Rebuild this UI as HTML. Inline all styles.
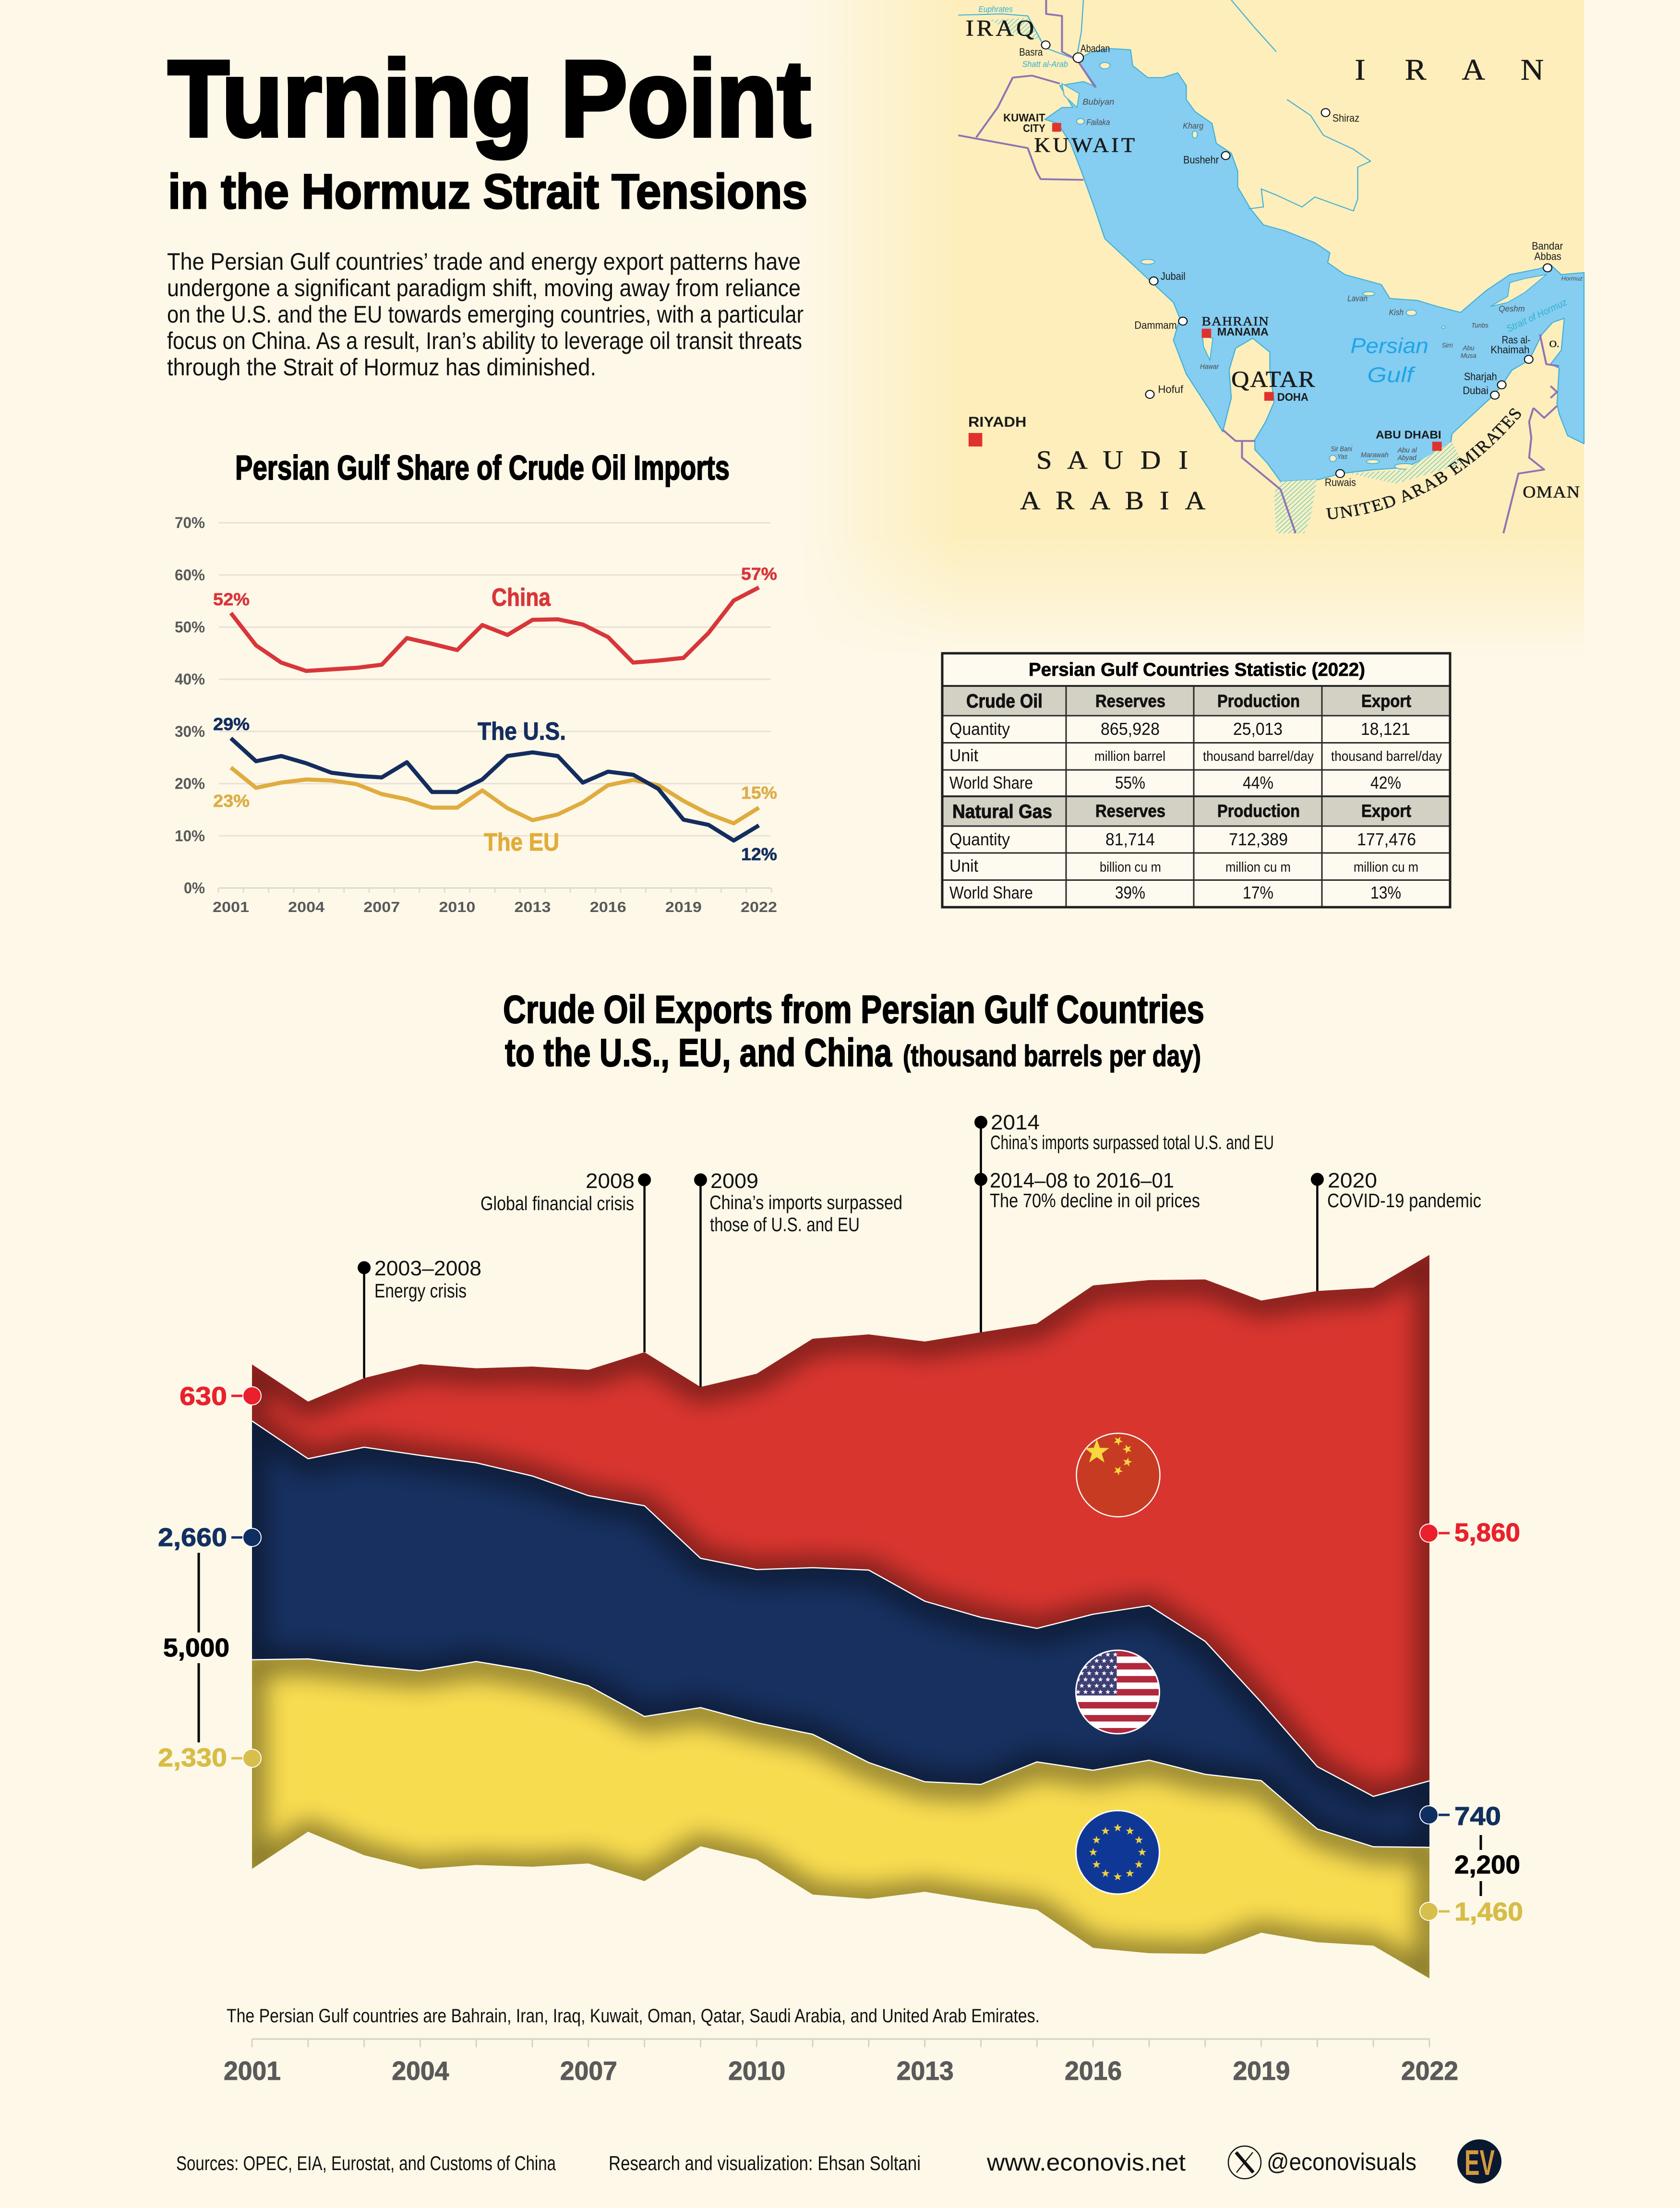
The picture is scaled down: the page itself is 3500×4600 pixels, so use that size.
<!DOCTYPE html>
<html lang="en">
<head>
<meta charset="utf-8">
<title>Turning Point in the Hormuz Strait Tensions</title>
<style>
html,body{margin:0;padding:0;background:#fdf8e8;}
svg{display:block;}
text{font-family:"Liberation Sans",sans-serif;fill:#111;}
.b{font-weight:700;}
.s{font-family:"Liberation Serif",serif;fill:#1a1a1a;stroke:#1a1a1a;stroke-width:.7px;}
.i{font-style:italic;fill:#4a4a4a;font-size:21px;}
.c{font-size:27px;fill:#1a1a1a;}
.cb{font-size:28px;font-weight:700;fill:#1a1a1a;}
.t{font-size:36px;}
.th{font-size:37px;font-weight:700;stroke:#111;stroke-width:.8px;}
.u{font-size:29px;}
.a{font-size:44px;fill:#111;}
.d{font-size:41px;fill:#111;}
.l{font-size:54px;font-weight:700;stroke-width:1px;}
.p{font-size:50px;fill:#111;}
.ls{font-size:36px;font-weight:700;stroke-width:.7px;}
</style>
</head>
<body>
<svg id="root" xmlns="http://www.w3.org/2000/svg" width="3500" height="4600" viewBox="0 0 3500 4600">
<defs>
  <linearGradient id="fadeL" x1="0" x2="1" y1="0" y2="0"><stop offset="0" stop-color="#fdf8e8"/><stop offset="1" stop-color="#fdf8e8" stop-opacity="0"/></linearGradient>
  <linearGradient id="fadeB" x1="0" x2="0" y1="0" y2="1"><stop offset="0" stop-color="#fdf8e8" stop-opacity="0"/><stop offset="1" stop-color="#fdf8e8"/></linearGradient>
  <pattern id="hatch" patternUnits="userSpaceOnUse" width="8" height="8" patternTransform="rotate(-45)"><rect width="8" height="8" fill="#f3f1c6"/><rect width="8" height="1.6" fill="#7cc3a8"/></pattern>
  <filter id="blur" filterUnits="userSpaceOnUse" x="300" y="2400" width="2900" height="1950"><feGaussianBlur stdDeviation="26"/></filter>
  <clipPath id="usaClip"><circle cx="2328.5" cy="3525" r="87"/></clipPath>
</defs>
<rect x="0" y="0" width="3500" height="4600" fill="#fdf8e8"/>

<g id="map">
  <rect x="1660" y="0" width="1640" height="1380" fill="#fdeebb"/>
  <g transform="translate(1900,0) scale(.89286,.82908)">
    <path fill="#85cdf1" stroke="#3fb0d8" stroke-width="2.5" stroke-linejoin="round" d="M385 150 L420 130 L462 122 L510 125 L515 165 L550 195 L585 195 L620 183 L640 215 L640 250 L660 280 L700 310 L710 360 L745 385 L760 430 L760 470 L790 525 L820 565 L870 580 L940 610 L975 635 L970 660 L1010 690 L1095 715 L1115 750 L1180 755 L1225 770 L1280 785 L1340 730 L1395 690 L1465 675 L1490 665 L1515 690 L1568 685 L1568 1115 L1530 1095 L1510 1040 L1505 1015 L1510 925 L1490 915 L1515 880 L1522 800 L1495 810 L1470 840 L1440 905 L1400 930 L1375 970 L1350 1000 L1300 1050 L1260 1090 L1255 1130 L1200 1150 L1150 1175 L1080 1180 L1000 1190 L950 1205 L860 1210 L830 1165 L800 1130 L800 1105 L825 1060 L845 1010 L835 930 L835 885 L795 850 L755 875 L740 930 L745 1000 L725 1085 L700 1040 L640 940 L610 855 L625 800 L610 760 L560 710 L500 650 L450 600 L425 520 L395 430 L370 360 L340 310 L310 300 L350 270 L375 270 L345 215 L400 205 L430 218 Z"/>
    <g fill="#fdeebb" stroke="#3fb0d8" stroke-width="2">
      <path d="M1350 770 L1390 745 L1395 710 L1430 700 L1480 690 L1430 735 L1390 760 Z"/>
      <path d="M350 210 L390 235 L385 270 L355 240 Z"/>
      <path d="M678 845 L702 850 L695 905 L680 870 Z"/>
      <ellipse cx="393" cy="305" rx="9" ry="7"/><ellipse cx="660" cy="338" rx="6" ry="9"/>
      <ellipse cx="1066" cy="738" rx="14" ry="5"/><ellipse cx="1165" cy="786" rx="12" ry="7"/>
      <ellipse cx="1075" cy="1160" rx="15" ry="5"/><ellipse cx="1150" cy="1172" rx="24" ry="7"/>
      <ellipse cx="982" cy="1152" rx="8" ry="8"/><ellipse cx="450" cy="165" rx="12" ry="8"/><ellipse cx="550" cy="658" rx="16" ry="6"/><ellipse cx="1240" cy="822" rx="4" ry="3"/>
    </g>
    <g fill="url(#hatch)">
      <path d="M860 1210 L945 1205 L930 1300 L915 1340 L850 1340 L845 1240 Z"/>
      <path d="M1020 1190 L1150 1180 L1260 1110 L1285 1165 L1130 1215 Z"/>
      <path d="M180 50 L270 45 L305 102 L240 85 Z"/>
    </g>
    <g fill="none" stroke="#3fb0d8" stroke-width="2.5">
      <path d="M108 38 L210 35 L270 40 L310 120 L385 150"/>
      <path d="M400 0 L395 80 L385 140"/>
      <path d="M745 0 L800 70 L850 130"/>
      <path d="M875 250 L930 290 L960 340 L1030 375 L1070 405 L1040 420 L1040 500 L1030 530 L940 495 L910 520 L850 490 L815 475 L820 520 L785 525"/>
    </g>
    <g fill="none" stroke="#8e73b3" stroke-width="4.5" stroke-linejoin="round">
      <path d="M313 0 L313 35 L350 40 L350 130 L385 150 L428 220"/>
      <path d="M345 210 L280 190 L235 195 L200 270 L150 345"/>
      <path d="M108 340 L270 372 L290 430 L300 450 L400 452"/>
      <path d="M725 1080 L755 1108 L800 1108"/>
      <path d="M770 1110 L770 1150 L860 1230 L895 1340"/>
      <path d="M1450 1025 L1440 1060 L1445 1100 L1440 1150 L1475 1180 L1415 1190 L1380 1340"/>
      <path d="M1450 1025 L1475 1050 L1505 1020"/>
      <path d="M1465 840 L1480 915 L1510 920"/>
      <path d="M1490 970 L1505 985 L1490 1000"/>
    </g>
    <g fill="#e0322d">
      <rect x="327" y="309" width="21" height="22"/><rect x="676" y="826" width="22" height="23"/><rect x="822" y="985" width="22" height="22"/><rect x="1214" y="1110" width="22" height="23"/><rect x="132" y="1088" width="32" height="34"/>
    </g>
    <g fill="#fff" stroke="#111" stroke-width="2.5">
      <circle cx="312" cy="113" r="10"/><circle cx="388" cy="145" r="12"/><circle cx="965" cy="283" r="10"/><circle cx="732" cy="391" r="10"/><circle cx="564" cy="706" r="10"/><circle cx="632" cy="807" r="10"/><circle cx="555" cy="991" r="10"/><circle cx="1483" cy="673" r="10"/><circle cx="1439" cy="903" r="10"/><circle cx="1376" cy="967" r="10"/><circle cx="1360" cy="993" r="10"/><circle cx="999" cy="1190" r="10"/>
    </g>
    <g>
      <text class="s sp" x="125" y="90" font-size="58" textLength="160">IRAQ</text>
      <text class="s" x="1033 1150 1283 1420" y="200" font-size="75">IRAN</text>
      <text class="s sp" x="285" y="382" font-size="52" textLength="235">KUWAIT</text>
      <text class="s" x="290 362 445 533 622" y="1178" font-size="66">SAUDI</text>
      <text class="s" x="252 335 415 497 578 637" y="1280" font-size="66">ARABIA</text>
      <text class="s sp" x="745" y="972" font-size="58" textLength="195">QATAR</text>
      <text class="s sp" x="676" y="818" font-size="32" textLength="156">BAHRAIN</text>
      <text class="s sp" x="1425" y="1250" font-size="42" textLength="133">OMAN</text>
      <text class="s" x="1487" y="872" font-size="24">O.</text>
      <path id="uaePath" d="M968 1305 Q1240 1285 1440 1020" fill="none"/>
      <text class="s" font-size="42"><textPath class="sp" href="#uaePath" textLength="545">UNITED ARAB EMIRATES</textPath></text>
      <text class="cb" x="213" y="305" textLength="98">KUWAIT</text>
      <text class="cb" x="259" y="332" textLength="52">CITY</text>
      <text class="cb" x="712" y="843" textLength="120">MANAMA</text>
      <text class="cb" x="852" y="1007" textLength="73">DOHA</text>
      <text class="cb" x="1082" y="1102" textLength="153">ABU DHABI</text>
      <text class="cb" x="131" y="1072" font-size="36" style="font-size:36px" textLength="136">RIYADH</text>
      <text class="c" x="250" y="140" textLength="55">Basra</text>
      <text class="c" x="393" y="131" textLength="69">Abadan</text>
      <text class="c" x="981" y="306" textLength="63">Shiraz</text>
      <text class="c" x="633" y="411" textLength="83">Bushehr</text>
      <text class="c" x="580" y="703" textLength="58">Jubail</text>
      <text class="c" x="519" y="826" textLength="99">Dammam</text>
      <text class="c" x="574" y="987" textLength="59">Hofuf</text>
      <text class="c" x="1446" y="627" textLength="73">Bandar</text>
      <text class="c" x="1452" y="653" textLength="63">Abbas</text>
      <text class="c" x="1376" y="863" textLength="67">Ras al-</text>
      <text class="c" x="1350" y="888" textLength="91">Khaimah</text>
      <text class="c" x="1288" y="955" textLength="77">Sharjah</text>
      <text class="c" x="1285" y="990" textLength="60">Dubai</text>
      <text class="c" x="963" y="1221" textLength="73">Ruwais</text>
      <text class="i" style="fill:#2fb2cf" x="155" y="30" textLength="80">Euphrates</text>
      <text class="i" style="fill:#2fb2cf" x="257" y="168" textLength="107">Shatt al-Arab</text>
      <text class="i" x="398" y="263" textLength="74">Bubiyan</text>
      <text class="i" x="407" y="314" textLength="55">Failaka</text>
      <text class="i" x="632" y="323" textLength="48">Kharg</text>
      <text class="i" x="1016" y="757" textLength="47">Lavan</text>
      <text class="i" x="1113" y="792" textLength="34">Kish</text>
      <text class="i" x="1515" y="705" textLength="50" style="font-size:16px">Hormuz</text>
      <text class="i" x="1369" y="783" textLength="61">Qeshm</text>
      <text class="i" x="1305" y="823" textLength="40" style="font-size:17px">Tunbs</text>
      <text class="i" x="1236" y="873" textLength="26" style="font-size:17px">Sirri</text>
      <text class="i" x="1285" y="880" textLength="27" style="font-size:17px">Abu</text>
      <text class="i" x="1280" y="899" textLength="37" style="font-size:17px">Musa</text>
      <text class="i" x="672" y="927" textLength="44" style="font-size:18px">Hawar</text>
      <text class="i" x="977" y="1134" textLength="50" style="font-size:18px">Sir Bani</text>
      <text class="i" x="992" y="1153" textLength="24" style="font-size:18px">Yas</text>
      <text class="i" x="1047" y="1149" textLength="65" style="font-size:18px">Marawah</text>
      <text class="i" x="1133" y="1137" textLength="45" style="font-size:18px">Abu al</text>
      <text class="i" x="1133" y="1156" textLength="44" style="font-size:18px">Abyad</text>
      <text class="i" style="fill:#1fa5e8;font-size:54px" x="1023" y="887" textLength="182">Persian</text>
      <text class="i" style="fill:#1fa5e8;font-size:54px" x="1062" y="960" textLength="108">Gulf</text>
      <text class="i" style="fill:#2fb2cf;font-size:24px" transform="translate(1392,835) rotate(-27)" textLength="155">Strait of Hormuz</text>
    </g>
  </g>
  <rect x="1660" y="0" width="340" height="1380" fill="url(#fadeL)"/>
  <rect x="1660" y="1110" width="1640" height="262" fill="url(#fadeB)"/>
  <rect x="1660" y="1372" width="1640" height="10" fill="#fdf8e8"/>
</g>

<g>
  <text class="b" x="350" y="283" font-size="225" textLength="1339" style="fill:#000;stroke:#000;stroke-width:8px">Turning Point</text>
  <text class="b" x="350" y="434" font-size="102" textLength="1332" style="fill:#000;stroke:#000;stroke-width:3px">in the Hormuz Strait Tensions</text>
  <text class="p" x="348" y="562" textLength="1320">The Persian Gulf countries’ trade and energy export patterns have</text>
  <text class="p" x="348" y="617" textLength="1320">undergone a significant paradigm shift, moving away from reliance</text>
  <text class="p" x="348" y="672" textLength="1326">on the U.S. and the EU towards emerging countries, with a particular</text>
  <text class="p" x="348" y="727" textLength="1323">focus on China. As a result, Iran’s ability to leverage oil transit threats</text>
  <text class="p" x="348" y="782" textLength="894">through the Strait of Hormuz has diminished.</text>
</g>

<g id="shareChart">
  <text class="b" x="490" y="999" font-size="71" textLength="1030" style="fill:#000;stroke:#000;stroke-width:2px">Persian Gulf Share of Crude Oil Imports</text>
  <g id="shareAxes"></g>
  <g id="shareLines"></g>
  <text class="ls" style="fill:#d8363a" x="444" y="1261" textLength="76">52%</text>
  <text class="ls" style="fill:#d8363a" x="1544" y="1208" textLength="75">57%</text>
  <text class="b" style="fill:#d8363a;stroke:#d8363a;stroke-width:1px" x="1024" y="1262" font-size="52" textLength="123">China</text>
  <text class="ls" style="fill:#142d5e" x="444" y="1521" textLength="76">29%</text>
  <text class="ls" style="fill:#142d5e" x="1544" y="1792" textLength="75">12%</text>
  <text class="b" style="fill:#142d5e;stroke:#142d5e;stroke-width:1px" x="995" y="1541" font-size="52" textLength="184">The U.S.</text>
  <text class="ls" style="fill:#dcae48" x="444" y="1681" textLength="76">23%</text>
  <text class="ls" style="fill:#dcae48" x="1544" y="1664" textLength="75">15%</text>
  <text class="b" style="fill:#e0ac3a;stroke:#e0ac3a;stroke-width:1px" x="1008" y="1772" font-size="52" textLength="157">The EU</text>
</g>

<g>
  <rect x="1963" y="1361" width="1058" height="529" fill="#fffaf0"/>
  <rect x="1963" y="1431" width="1058" height="59" fill="#d3d0c4"/>
  <rect x="1963" y="1661" width="1058" height="59" fill="#d3d0c4"/>
  <g stroke="#2a2a2a" stroke-width="3">
    <line x1="1963" x2="3021" y1="1491" y2="1491"/><line x1="1963" x2="3021" y1="1547.5" y2="1547.5"/><line x1="1963" x2="3021" y1="1604" y2="1604"/><line x1="1963" x2="3021" y1="1721" y2="1721"/><line x1="1963" x2="3021" y1="1777" y2="1777"/><line x1="1963" x2="3021" y1="1833.5" y2="1833.5"/>
    <line x1="2221" x2="2221" y1="1430" y2="1889"/><line x1="2487" x2="2487" y1="1430" y2="1889"/><line x1="2754" x2="2754" y1="1430" y2="1889"/>
    <line x1="1963" x2="3021" y1="1429" y2="1429" stroke-width="4"/><line x1="1963" x2="3021" y1="1659" y2="1659" stroke-width="4"/>
  </g>
  <rect x="1963" y="1361" width="1058" height="529" fill="none" stroke="#1e1e1e" stroke-width="5"/>
  <text class="b" x="2143" y="1408" font-size="39" textLength="701" style="fill:#000;stroke:#000;stroke-width:.8px">Persian Gulf Countries Statistic (2022)</text>
  <text class="b" x="2013" y="1474" font-size="40" textLength="159" style="stroke:#111;stroke-width:1px">Crude Oil</text>
  <text class="th" x="2282" y="1473" textLength="146">Reserves</text>
  <text class="th" x="2536" y="1473" textLength="172">Production</text>
  <text class="th" x="2836" y="1473" textLength="104">Export</text>
  <text class="t" x="1978" y="1531" textLength="126">Quantity</text>
  <text class="t" x="2293" y="1531" textLength="123">865,928</text>
  <text class="t" x="2569" y="1531" textLength="103">25,013</text>
  <text class="t" x="2835" y="1531" textLength="103">18,121</text>
  <text class="t" x="1978" y="1586" textLength="60">Unit</text>
  <text class="u" x="2280" y="1585" textLength="148">million barrel</text>
  <text class="u" x="2506" y="1585" textLength="231">thousand barrel/day</text>
  <text class="u" x="2773" y="1585" textLength="231">thousand barrel/day</text>
  <text class="t" x="1978" y="1643" textLength="174">World Share</text>
  <text class="t" x="2323" y="1643" textLength="63">55%</text>
  <text class="t" x="2589" y="1643" textLength="64">44%</text>
  <text class="t" x="2855" y="1643" textLength="64">42%</text>
  <text class="b" x="1984" y="1704" font-size="40" textLength="208" style="stroke:#111;stroke-width:1px">Natural Gas</text>
  <text class="th" x="2282" y="1702" textLength="146">Reserves</text>
  <text class="th" x="2536" y="1702" textLength="172">Production</text>
  <text class="th" x="2836" y="1702" textLength="104">Export</text>
  <text class="t" x="1978" y="1761" textLength="126">Quantity</text>
  <text class="t" x="2303" y="1761" textLength="103">81,714</text>
  <text class="t" x="2560" y="1761" textLength="123">712,389</text>
  <text class="t" x="2827" y="1761" textLength="123">177,476</text>
  <text class="t" x="1978" y="1816" textLength="60">Unit</text>
  <text class="u" x="2291" y="1816" textLength="128">billion cu m</text>
  <text class="u" x="2553" y="1816" textLength="136">million cu m</text>
  <text class="u" x="2820" y="1816" textLength="135">million cu m</text>
  <text class="t" x="1978" y="1872" textLength="174">World Share</text>
  <text class="t" x="2323" y="1872" textLength="63">39%</text>
  <text class="t" x="2589" y="1872" textLength="64">17%</text>
  <text class="t" x="2855" y="1872" textLength="64">13%</text>
</g>

<g>
  <text class="b" x="1048" y="2131" font-size="82" textLength="1461" style="fill:#000;stroke:#000;stroke-width:2px">Crude Oil Exports from Persian Gulf Countries</text>
  <text class="b" x="1052" y="2221" font-size="82" textLength="806" style="fill:#000;stroke:#000;stroke-width:2px">to the U.S., EU, and China</text>
  <text class="b" x="1881" y="2221" font-size="62" textLength="621" style="fill:#000;stroke:#000;stroke-width:1.5px">(thousand barrels per day)</text>
</g>

<g id="stream"></g>

<g id="events">
  <text class="a" x="780" y="2657" textLength="223">2003–2008</text>
  <text class="d" x="780" y="2703" textLength="192">Energy crisis</text>
  <text class="a" x="1220" y="2475" textLength="102">2008</text>
  <text class="d" x="1001" y="2521" textLength="320">Global financial crisis</text>
  <text class="a" x="1480" y="2475" textLength="100">2009</text>
  <text class="d" x="1478" y="2519" textLength="402">China’s imports surpassed</text>
  <text class="d" x="1479" y="2565" textLength="312">those of U.S. and EU</text>
  <text class="a" x="2064" y="2353" textLength="102">2014</text>
  <text class="d" x="2063" y="2394" textLength="591">China’s imports surpassed total U.S. and EU</text>
  <text class="a" x="2062" y="2474" textLength="384">2014–08 to 2016–01</text>
  <text class="d" x="2062" y="2515" textLength="438">The 70% decline in oil prices</text>
  <text class="a" x="2766" y="2474" textLength="103">2020</text>
  <text class="d" x="2765" y="2515" textLength="321">COVID-19 pandemic</text>
</g>

<g>
  <line x1="482" x2="512" y1="2908" y2="2908" stroke="#ec1f2c" stroke-width="5"/>
  <circle cx="525" cy="2908" r="19" fill="#ec1f2c" stroke="#fff" stroke-width="2"/>
  <text class="l" style="fill:#e8222c" x="374" y="2927" textLength="99">630</text>
  <line x1="482" x2="512" y1="3203" y2="3203" stroke="#0f2f63" stroke-width="5"/>
  <circle cx="525" cy="3203" r="19" fill="#0f2f63" stroke="#fff" stroke-width="2"/>
  <text class="l" style="fill:#12305f" x="329" y="3221" textLength="144">2,660</text>
  <line x1="482" x2="512" y1="3663" y2="3663" stroke="#d8bf4c" stroke-width="5"/>
  <circle cx="525" cy="3663" r="19" fill="#d8bf4c" stroke="#fff" stroke-width="2"/>
  <text class="l" style="fill:#d6bd47" x="329" y="3680" textLength="144">2,330</text>
  <text class="l" style="fill:#000" x="340" y="3451" textLength="138">5,000</text>
  <line x1="414" x2="414" y1="3235" y2="3401" stroke="#000" stroke-width="5"/>
  <line x1="414" x2="414" y1="3465" y2="3630" stroke="#000" stroke-width="5"/>
  <line x1="2990" x2="3020" y1="3194" y2="3194" stroke="#ec1f2c" stroke-width="5"/>
  <circle cx="2977" cy="3194" r="19" fill="#ec1f2c" stroke="#fff" stroke-width="2"/>
  <text class="l" style="fill:#e8222c" x="3030" y="3211" textLength="137">5,860</text>
  <line x1="2990" x2="3020" y1="3781" y2="3781" stroke="#0f2f63" stroke-width="5"/>
  <circle cx="2977" cy="3781" r="19" fill="#0f2f63" stroke="#fff" stroke-width="2"/>
  <text class="l" style="fill:#12305f" x="3030" y="3802" textLength="97">740</text>
  <line x1="2990" x2="3020" y1="3982" y2="3982" stroke="#d8bf4c" stroke-width="5"/>
  <circle cx="2977" cy="3982" r="19" fill="#d8bf4c" stroke="#fff" stroke-width="2"/>
  <text class="l" style="fill:#d6bd47" x="3030" y="4001" textLength="143">1,460</text>
  <text class="l" style="fill:#000" x="3030" y="3903" textLength="137">2,200</text>
  <line x1="3085" x2="3085" y1="3823" y2="3854" stroke="#000" stroke-width="5"/>
  <line x1="3085" x2="3085" y1="3919" y2="3950" stroke="#000" stroke-width="5"/>
</g>

<g id="flags">
  <g id="flagChina"><circle cx="2329.5" cy="3073" r="87" fill="#c83b23" stroke="#fff" stroke-width="2.5"/></g>
  <g id="flagUsa"></g>
  <g id="flagEu"><circle cx="2328.5" cy="3859" r="87" fill="#0f3896" stroke="#fff" stroke-width="3"/></g>
</g>

<text x="472" y="4213" font-size="40" textLength="1694">The Persian Gulf countries are Bahrain, Iran, Iraq, Kuwait, Oman, Qatar, Saudi Arabia, and United Arab Emirates.</text>
<g id="streamAxis"></g>

<g>
  <text x="367" y="4521" font-size="42" textLength="791">Sources: OPEC, EIA, Eurostat, and Customs of China</text>
  <text x="1268" y="4521" font-size="42" textLength="650">Research and visualization: Ehsan Soltani</text>
  <text x="2056" y="4522" font-size="50" textLength="414">www.econovis.net</text>
  <g>
    <circle cx="2593" cy="4505" r="34" fill="none" stroke="#111" stroke-width="2.5"/>
    <line x1="2575" y1="4484" x2="2611" y2="4526" stroke="#111" stroke-width="7"/>
    <line x1="2610" y1="4484" x2="2576" y2="4526" stroke="#111" stroke-width="2.5"/>
  </g>
  <text x="2639" y="4521" font-size="50" textLength="312">@econovisuals</text>
  <circle cx="3082" cy="4503" r="46" fill="#0a1830"/>
  <text class="b" style="fill:#d29a3f" x="3051" y="4531" font-size="74" textLength="63">EV</text>
</g>
</svg>
<script>
// ---- Line chart data: Persian Gulf share of crude oil imports (%) ----
const years = [2001,2002,2003,2004,2005,2006,2007,2008,2009,2010,2011,2012,2013,2014,2015,2016,2017,2018,2019,2020,2021,2022];
const shareChina = [52.7,46.5,43.2,41.6,41.9,42.2,42.8,47.9,46.8,45.6,50.4,48.5,51.4,51.5,50.5,48.1,43.2,43.6,44.1,48.9,55.1,57.6];
const shareUS = [28.7,24.3,25.3,23.9,22.1,21.5,21.2,24.1,18.4,18.4,20.8,25.3,26.0,25.3,20.2,22.3,21.7,19.0,13.1,12.1,9.1,12.0];
const shareEU = [23.1,19.2,20.2,20.8,20.6,19.9,18.0,17.0,15.4,15.4,18.7,15.3,13.0,14.1,16.4,19.7,20.7,19.7,16.7,14.2,12.4,15.4];
const shareTicks = [0,10,20,30,40,50,60,70];
const yearLabels = [2001,2004,2007,2010,2013,2016,2019,2022];
// ---- Stream chart data: crude exports (thousand barrels per day) ----
const exportsChina = [630,636,770,1016,1053,1219,1401,1711,1909,2182,2551,2626,2893,3176,3396,3663,3626,4032,4476,5299,5668,5860];
const exportsUS = [2660,2230,2433,2401,2214,2171,2118,2348,1663,1706,1856,2144,2011,1861,1487,1738,1722,1481,872,695,561,740];
const exportsEU = [2330,1925,2112,2209,2267,2182,1979,1834,1545,1524,1786,1519,1225,1299,1647,1979,2150,2000,1695,1262,1102,1460];

const NS = 'http://www.w3.org/2000/svg';
function mk(tag, attrs, parent) {
  const el = document.createElementNS(NS, tag);
  for (const k in attrs) el.setAttribute(k, attrs[k]);
  parent.appendChild(el);
  return el;
}

// Line chart axes
const xLine = y => 481 + (y - 2001) * (1100 / 21);
const yLine = v => 1850 - v * 10.87;
const axesG = document.getElementById('shareAxes');
shareTicks.forEach(t => {
  const g = mk('line', {x1: 456, x2: 1606, y1: yLine(t), y2: yLine(t), stroke: t === 0 ? '#dcd8cc' : '#e7e1d8', 'stroke-width': 3}, axesG);
  
  
  const w = t === 0 ? 44 : 63;
  const l = mk('text', {x: 427 - w, y: yLine(t) + 11, 'font-size': 32, 'font-weight': 700, textLength: w}, axesG);
  l.style.fill = '#595959';
  l.textContent = t + '%';
  
  
});
years.concat([2023]).forEach(y => {
  const tx = xLine(y) - (1100 / 42);
  const tk = mk('line', {x1: tx, x2: tx, y1: yLine(0), y2: yLine(0) + 10, stroke: '#dcd8cc', 'stroke-width': 2.5}, axesG);
  
  
});
yearLabels.forEach(y => {
  const l = mk('text', {x: xLine(y) - 38, y: 1900, 'font-size': 31, 'font-weight': 700, textLength: 76}, axesG);
  l.style.fill = '#595959';
  l.textContent = y;
  
  
});
// Line chart series
const linesG = document.getElementById('shareLines');
function linePath(vals) {
  return vals.map((v, i) => (i ? 'L' : 'M') + xLine(years[i]).toFixed(1) + ' ' + yLine(v).toFixed(1)).join(' ');
}
const lineEU = mk('path', {d: linePath(shareEU), fill: 'none', stroke: '#dfac3f', 'stroke-width': 8.5, 'stroke-linejoin': 'round'}, linesG);


const lineUS = mk('path', {d: linePath(shareUS), fill: 'none', stroke: '#142d5e', 'stroke-width': 8.5, 'stroke-linejoin': 'round'}, linesG);


const lineChina = mk('path', {d: linePath(shareChina), fill: 'none', stroke: '#d8363a', 'stroke-width': 8.5, 'stroke-linejoin': 'round'}, linesG);



// Stream chart scales
const xStream = y => 525 + (y - 2001) * (2453 / 21);
const streamScale = 0.187;
const streamCenter = 3368;
const totals = years.map((y, i) => exportsChina[i] + exportsUS[i] + exportsEU[i]);
const yTop = i => streamCenter - totals[i] * streamScale / 2;
const b1 = i => yTop(i) + exportsChina[i] * streamScale;
const b2 = i => b1(i) + exportsUS[i] * streamScale;
const b3 = i => b2(i) + exportsEU[i] * streamScale;
const streamG = document.getElementById('stream');
const defs = document.querySelector('defs');
function bandPath(upper, lower) {
  let d = years.map((y, i) => (i ? 'L' : 'M') + xStream(y).toFixed(1) + ' ' + upper(i).toFixed(1)).join(' ');
  for (let i = years.length - 1; i >= 0; i--) d += ' L' + xStream(years[i]).toFixed(1) + ' ' + lower(i).toFixed(1);
  return d + ' Z';
}
function band(name, upper, lower, fill) {
  const d = bandPath(upper, lower);
  const cp = mk('clipPath', {id: 'clip-' + name}, defs);
  mk('path', {d: d}, cp);
  const area = mk('path', {d: d, fill: fill}, streamG);
  
  
  const wrap = mk('g', {'clip-path': 'url(#clip-' + name + ')'}, streamG);
  
  
  mk('path', {d: d, fill: 'none', stroke: '#000', 'stroke-opacity': .48, 'stroke-width': 50, filter: 'url(#blur)', transform: 'translate(0,5)'}, wrap);
}
band('china', yTop, b1, '#d9352f');
band('us', b1, b2, '#17305f');
band('eu', b2, b3, '#f8dc50');
function edge(name, fn) {
  const p = mk('path', {d: years.map((y, i) => (i ? 'L' : 'M') + xStream(y).toFixed(1) + ' ' + fn(i).toFixed(1)).join(' '), fill: 'none', stroke: '#fff', 'stroke-width': 2.5}, streamG);
  
  
}
edge('china-us-boundary', b1);
edge('us-eu-boundary', b2);

// Stream x axis
const axisG = document.getElementById('streamAxis');
const axisLine = mk('line', {x1: xStream(2001), x2: xStream(2022), y1: 4248, y2: 4248, stroke: '#dcd8cc', 'stroke-width': 4}, axisG);


years.forEach(y => {
  const tk = mk('line', {x1: xStream(y), x2: xStream(y), y1: 4248, y2: 4265, stroke: '#d6d2c6', 'stroke-width': 3}, axisG);
  
  
});
yearLabels.forEach(y => {
  const l = mk('text', {x: xStream(y) - 59, y: 4333, 'font-size': 55, 'font-weight': 700, textLength: 119}, axisG);
  l.style.fill = '#5a5a5a';
  l.style.stroke = '#5a5a5a';
  l.style.strokeWidth = '1px';
  l.textContent = y;
  
  
});

// Event markers
const eventsG = document.getElementById('events');
function eventMark(year, dotY, name) {
  const i = years.indexOf(year);
  const ln = mk('line', {x1: xStream(year), x2: xStream(year), y1: dotY, y2: yTop(i), stroke: '#000', 'stroke-width': 4.5}, eventsG);
  
  
  const dt = mk('circle', {cx: xStream(year), cy: dotY, r: 13.5, fill: '#000'}, eventsG);
  
  
}
eventMark(2003, 2641, 'event-2003');
eventMark(2008, 2458, 'event-2008');
eventMark(2009, 2458, 'event-2009');
eventMark(2014, 2338, 'event-2014');
eventMark(2014, 2457, 'event-oil-decline');
eventMark(2020, 2457, 'event-2020');

// Flags
function starPts(cx, cy, r, rot) {
  const pts = [];
  for (let k = 0; k < 10; k++) {
    const rr = k % 2 ? r * 0.4 : r;
    const a = (rot || 0) - Math.PI / 2 + k * Math.PI / 5;
    pts.push((cx + rr * Math.cos(a)).toFixed(1) + ',' + (cy + rr * Math.sin(a)).toFixed(1));
  }
  return pts.join(' ');
}
function star(parent, cx, cy, r, fill, rot) {
  const s = mk('polygon', {points: starPts(cx, cy, r, rot), fill: fill}, parent);
  
  
}
const fc = document.getElementById('flagChina');
star(fc, 2285, 3025, 27, '#f7d83e', 0);
star(fc, 2329.5, 3002, 10, '#f7d83e', .5);
star(fc, 2348.6, 3019, 10, '#f7d83e', .9);
star(fc, 2348.6, 3046, 10, '#f7d83e', .2);
star(fc, 2329.5, 3064, 10, '#f7d83e', .5);
const fu = document.getElementById('flagUsa');
const usaWrap = mk('g', {'clip-path': 'url(#usaClip)'}, fu);
mk('rect', {x: 2240, y: 3437, width: 180, height: 176, fill: '#fff'}, usaWrap);
for (let k = 0; k < 13; k += 2) {
  mk('rect', {x: 2240, y: 3437.5 + k * 13.54, width: 180, height: 13.54, fill: '#b2283c'}, usaWrap);
}
mk('rect', {x: 2240, y: 3437, width: 86.5, height: 95, fill: '#3d3f74'}, usaWrap);
for (let r = 0; r < 7; r++) {
  for (let c = 0; c < (r % 2 ? 5 : 6); c++) {
    star(usaWrap, 2246 + c * 15.5 + (r % 2 ? 7.7 : 0), 3447 + r * 13, 5.5, '#fff', 0);
  }
}
mk('circle', {cx: 2328.5, cy: 3525, r: 87, fill: 'none', stroke: '#fff', 'stroke-width': 3}, fu);
const fe = document.getElementById('flagEu');
for (let k = 0; k < 12; k++) {
  const a = k * Math.PI / 6;
  star(fe, 2328.5 + 51 * Math.sin(a), 3859 - 51 * Math.cos(a), 9, '#f3d13f', 0);
}

document.querySelectorAll('.l,.ls').forEach(t => { t.style.stroke = t.style.fill; });
document.querySelectorAll('text[textLength], textPath[textLength]').forEach(t => t.setAttribute('lengthAdjust', t.classList.contains('sp') ? 'spacing' : 'spacingAndGlyphs'));
</script>
</body>
</html>
